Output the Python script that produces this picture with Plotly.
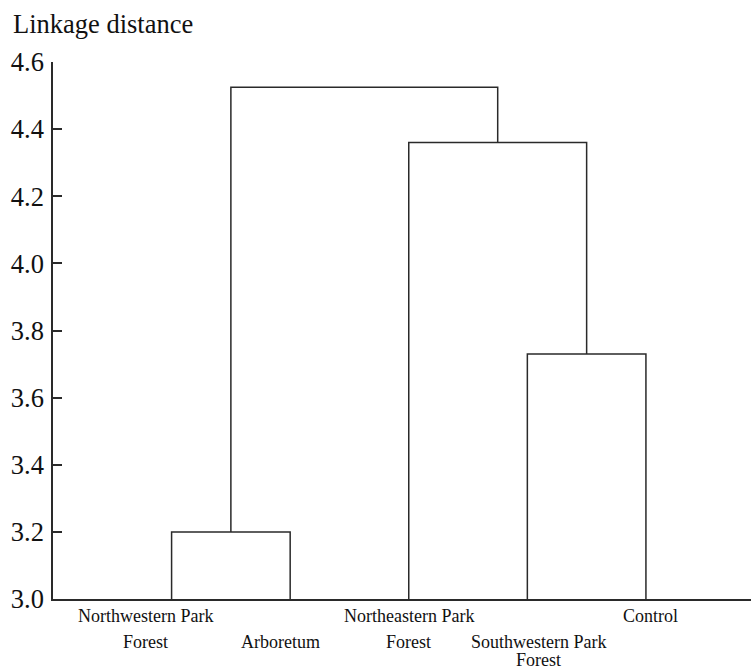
import plotly.graph_objects as go

# ---- data ----
leaf_names = ["Northwestern Park Forest", "Arboretum", "Northeastern Park Forest",
              "Southwestern Park Forest", "Control"]
leaf_label_lines = [["Northwestern Park", "Forest"], ["Arboretum"], ["Northeastern Park", "Forest"],
                    ["Southwestern Park", "Forest"], ["Control"]]
# merges: (node_a, node_b, linkage distance); new nodes numbered from len(leaves)
merge_a = [0, 3, 2, 5]
merge_b = [1, 4, 6, 7]
merge_dist = [3.20, 3.73, 4.36, 4.525]
y_ticks = [3.0, 3.2, 3.4, 3.6, 3.8, 4.0, 4.2, 4.4, 4.6]

# ---- build dendrogram segments ----
n = len(leaf_names)
node_x = {i: i + 1 for i in range(n)}
node_y = {i: 3.0 for i in range(n)}
xs, ys = [], []
for k, (a, b, d) in enumerate(zip(merge_a, merge_b, merge_dist)):
    xa, ya, xb, yb = node_x[a], node_y[a], node_x[b], node_y[b]
    xs += [xa, xa, xb, xb, None]
    ys += [ya, d, d, yb, None]
    node_x[n + k] = (xa + xb) / 2
    node_y[n + k] = d

LINE = "#2a2a2a"
FONT = "Liberation Serif"

fig = go.Figure()
fig.add_trace(go.Scatter(x=xs, y=ys, mode="lines",
                         line=dict(color=LINE, width=1.5), hoverinfo="skip",
                         showlegend=False))

# leaf labels (staggered rows as in the reference)
label_xshift = [-26, -10, 0, 11, 5]
label_row_start = [0, 1, 0, 1, 0]
row_yshift = [-17, -43, -61]
for i, lines in enumerate(leaf_label_lines):
    for j, line in enumerate(lines):
        r = label_row_start[i] + j
        if i == 3 and j == 1:
            r = 2
        fig.add_annotation(x=i + 1, xref="x", y=0, yref="paper", text=line,
                           showarrow=False, xanchor="center", yanchor="middle",
                           xshift=label_xshift[i], yshift=row_yshift[r],
                           font=dict(family=FONT, size=18, color="#111"))

fig.add_annotation(x=0, xref="paper", y=1, yref="paper", text="Linkage distance",
                   showarrow=False, xanchor="left", yanchor="middle",
                   xshift=-42, yshift=38,
                   font=dict(family=FONT, size=26.5, color="#111"))

fig.update_layout(
    width=751, height=666,
    margin=dict(l=53, r=0, t=62, b=67, autoexpand=False),
    paper_bgcolor="white", plot_bgcolor="white",
    xaxis=dict(range=[0, 5.886], showgrid=False, zeroline=False, showticklabels=False,
               ticks="", showline=True, linecolor=LINE, linewidth=1.5, automargin=False),
    yaxis=dict(range=[3.0, 4.6], tickvals=y_ticks, tickformat=".1f", automargin=False,
               showgrid=False, zeroline=False, showline=True, linecolor=LINE, linewidth=1.5,
               ticks="inside", ticklen=9, tickwidth=1.5, tickcolor=LINE,
               tickfont=dict(family=FONT, size=26.5, color="#111"), ticklabelstandoff=2),
)

fig.write_html("out.html", config={"displayModeBar": False},
               post_script="document.body.style.margin='0';document.body.style.overflow='hidden';")
